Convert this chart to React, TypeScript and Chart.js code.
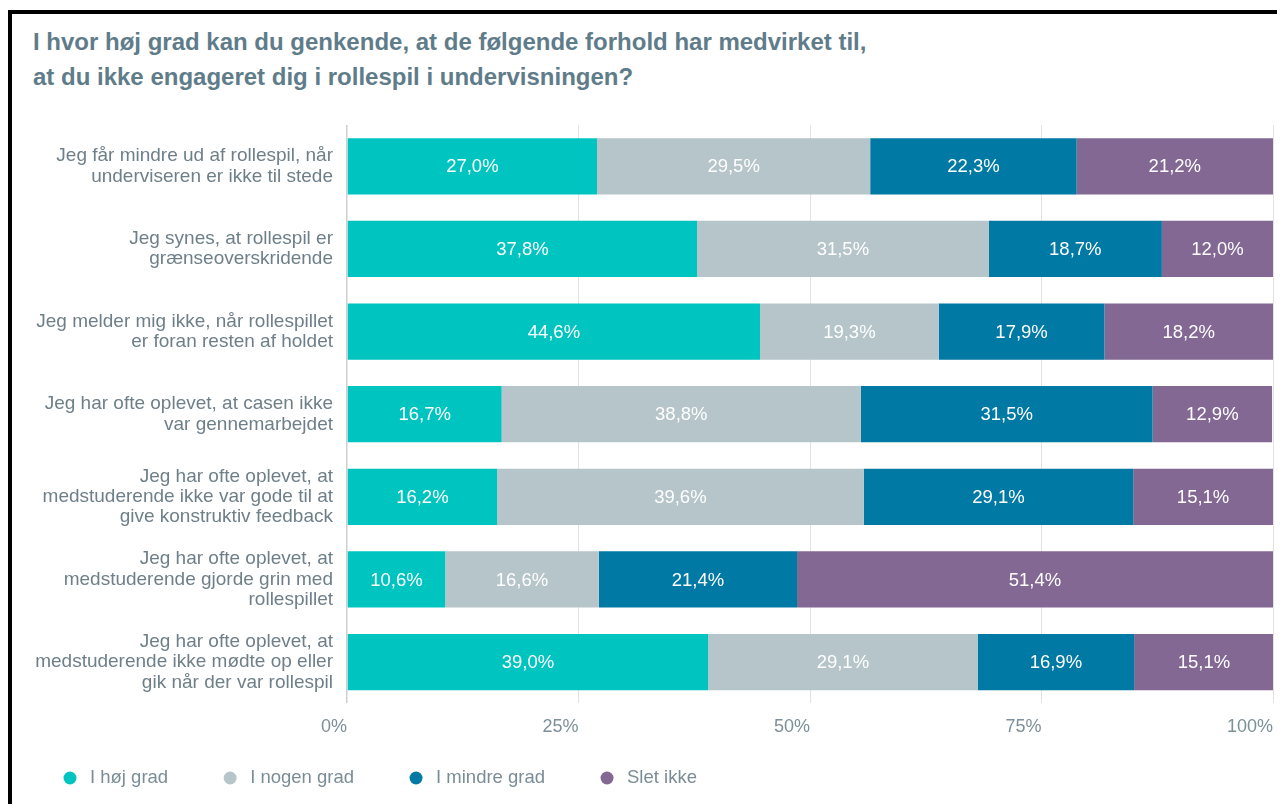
import React, { useEffect, useRef } from "react";
import { Chart, registerables } from "chart.js";

Chart.register(...registerables);

const categories: string[][] = [
  ["Jeg får mindre ud af rollespil, når", "underviseren er ikke til stede"],
  ["Jeg synes, at rollespil er", "grænseoverskridende"],
  ["Jeg melder mig ikke, når rollespillet", "er foran resten af holdet"],
  ["Jeg har ofte oplevet, at casen ikke", "var gennemarbejdet"],
  ["Jeg har ofte oplevet, at", "medstuderende ikke var gode til at", "give konstruktiv feedback"],
  ["Jeg har ofte oplevet, at", "medstuderende gjorde grin med", "rollespillet"],
  ["Jeg har ofte oplevet, at", "medstuderende ikke mødte op eller", "gik når der var rollespil"],
];

const seriesNames = ["I høj grad", "I nogen grad", "I mindre grad", "Slet ikke"];
const iHojGrad = [27.0, 37.8, 44.6, 16.7, 16.2, 10.6, 39.0];
const iNogenGrad = [29.5, 31.5, 19.3, 38.8, 39.6, 16.6, 29.1];
const iMindreGrad = [22.3, 18.7, 17.9, 31.5, 29.1, 21.4, 16.9];
const sletIkke = [21.2, 12.0, 18.2, 12.9, 15.1, 51.4, 15.1];
const seriesColors = ["#00c4c0", "#b6c5c9", "#0079a4", "#826893"];
const xTicks = [0, 25, 50, 75, 100];

const titleLines = [
  "I hvor høj grad kan du genkende, at de følgende forhold har medvirket til,",
  "at du ikke engageret dig i rollespil i undervisningen?",
];

const FONT = "'Liberation Sans', Arial, sans-serif";

const dataLabelPlugin = {
  id: "segmentLabels",
  afterDatasetsDraw(chart: any) {
    const ctx = chart.ctx;
    ctx.save();
    ctx.font = `18.5px ${FONT}`;
    ctx.fillStyle = "#ffffff";
    ctx.textAlign = "center";
    ctx.textBaseline = "middle";
    chart.data.datasets.forEach((ds: any, di: number) => {
      const meta = chart.getDatasetMeta(di);
      meta.data.forEach((bar: any, i: number) => {
        const v = ds.data[i];
        const x = (bar.x + bar.base) / 2;
        ctx.fillText(v.toFixed(1).replace(".", ",") + "%", x, bar.y + 1);
      });
    });
    ctx.restore();
  },
};

const legendPlugin = {
  id: "customLegend",
  afterDraw(chart: any) {
    const ctx = chart.ctx;
    ctx.save();
    ctx.font = `18.5px ${FONT}`;
    ctx.textBaseline = "middle";
    ctx.textAlign = "left";
    let x = 58;
    const y = 764;
    chart.data.datasets.forEach((ds: any) => {
      ctx.fillStyle = ds.backgroundColor;
      ctx.beginPath();
      ctx.arc(x, y, 6.5, 0, Math.PI * 2);
      ctx.fill();
      ctx.fillStyle = "#7a8c96";
      ctx.fillText(ds.label, x + 20, y);
      const w = ctx.measureText(ds.label).width;
      x = x + 20 + w + 62;
    });
    ctx.restore();
  },
};

export default function App() {
  const canvasRef = useRef<HTMLCanvasElement | null>(null);

  useEffect(() => {
    if (!canvasRef.current) return;
    const values = [iHojGrad, iNogenGrad, iMindreGrad, sletIkke];
    const chart = new Chart(canvasRef.current, {
      type: "bar",
      data: {
        labels: categories,
        datasets: seriesNames.map((name, i) => ({
          label: name,
          data: values[i],
          backgroundColor: seriesColors[i],
          borderWidth: 0,
          categoryPercentage: 0.8,
          barPercentage: 0.85,
        })),
      },
      options: {
        indexAxis: "y",
        animation: false,
        responsive: false,
        maintainAspectRatio: false,
        layout: { padding: { top: 111, right: 12, left: 0, bottom: 53 } },
        plugins: {
          legend: { display: false },
          tooltip: { enabled: false },
          title: { display: false },
        },
        scales: {
          x: {
            stacked: true,
            min: 0,
            max: 100,
            afterBuildTicks: (scale: any) => {
              scale.ticks = xTicks.map((v) => ({ value: v }));
            },
            afterFit: (scale: any) => {
              scale.paddingLeft = 0;
              scale.paddingRight = 0;
            },
            ticks: {
              callback: (v: any) => v + "%",
              color: "#7d8f99",
              font: { size: 18, family: FONT },
              padding: 13,
              align: "end",
            },
            grid: {
              color: (c: any) => (c.tick && c.tick.value === 0 ? "#cfcfcf" : "#e2e2e2"),
              lineWidth: (c: any) => (c.tick && c.tick.value === 0 ? 1.5 : 1),
              drawTicks: false,
            },
            border: { display: false },
          },
          y: {
            stacked: true,
            afterFit: (scale: any) => {
              scale.width = 335;
              scale.paddingTop = 0;
              scale.paddingBottom = 0;
            },
            ticks: {
              color: "#6e7f89",
              font: { size: 19, family: FONT, lineHeight: 1.07 },
              padding: 14,
            },
            grid: { display: false, drawTicks: false },
            border: { display: false },
          },
        },
      },
      plugins: [dataLabelPlugin, legendPlugin],
    });
    return () => chart.destroy();
  }, []);

  return (
    <div
      style={{
        marginTop: 2,
        marginRight: -8,
        borderTop: "4px solid #000",
        borderLeft: "4px solid #000",
        height: 790,
        position: "relative",
        overflow: "hidden",
        background: "#fff",
      }}
    >
      <div
        style={{
          position: "absolute",
          left: 21,
          top: 10,
          font: `bold 24px ${FONT}`,
          lineHeight: "35px",
          color: "#5f7c8a",
          whiteSpace: "nowrap",
        }}
      >
        {titleLines.map((t, i) => (
          <div key={i}>{t}</div>
        ))}
      </div>
      <canvas
        ref={canvasRef}
        width={1273}
        height={790}
        style={{ position: "absolute", left: 0, top: 0, width: 1273, height: 790 }}
      />
    </div>
  );
}
